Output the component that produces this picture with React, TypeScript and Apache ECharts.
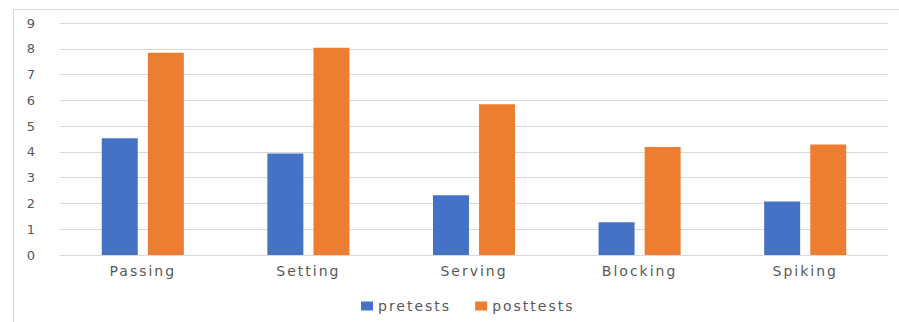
import React, { useEffect, useRef } from "react";
import * as echarts from "echarts";

// Skill scores before and after the training programme
const categories = ["Passing", "Setting", "Serving", "Blocking", "Spiking"];
const pretests = [4.53, 3.94, 2.32, 1.27, 2.08];
const posttests = [7.85, 8.04, 5.85, 4.19, 4.29];
const seriesNames = ["pretests", "posttests"];
const yTicks = { min: 0, max: 9, interval: 1 };

const BLUE = "#4472C4";
const ORANGE = "#ED7D31";
const TEXT = "#595959";
const GRID = "#d9d9d9";
const FONT = "DejaVu Sans";

export default function App() {
  const ref = useRef<HTMLDivElement>(null);

  useEffect(() => {
    if (!ref.current) return;
    const chart = echarts.init(ref.current, null, { renderer: "svg" });
    chart.setOption({
      animation: false,
      backgroundColor: "#ffffff",
      graphic: [
        {
          type: "rect",
          left: 11,
          top: 7,
          shape: { width: 900, height: 330 },
          style: { fill: "none", stroke: GRID, lineWidth: 1 },
          silent: true,
        },
      ],
      grid: { left: 60, right: 11, top: 23, bottom: 67, containLabel: false },
      legend: {
        data: seriesNames,
        left: 356,
        top: 294,
        itemWidth: 12,
        itemHeight: 9,
        itemGap: 40,
        icon: "rect",
        textStyle: { color: TEXT, fontFamily: FONT, fontSize: 14 },
      },
      xAxis: {
        type: "category",
        data: categories,
        axisLine: { show: true, lineStyle: { color: GRID, width: 1 } },
        axisTick: { show: false },
        axisLabel: { color: TEXT, fontFamily: FONT, fontSize: 14, margin: 9 },
      },
      yAxis: {
        type: "value",
        min: yTicks.min,
        max: yTicks.max,
        interval: yTicks.interval,
        axisLine: { show: false },
        axisTick: { show: false },
        axisLabel: { color: TEXT, fontFamily: FONT, fontSize: 13, margin: 23 },
        splitLine: { lineStyle: { color: GRID, width: 1 } },
      },
      series: [
        {
          name: seriesNames[0],
          type: "bar",
          data: pretests,
          barWidth: 36,
          barGap: "28%",
          itemStyle: { color: BLUE },
        },
        {
          name: seriesNames[1],
          type: "bar",
          data: posttests,
          barWidth: 36,
          barGap: "28%",
          itemStyle: { color: ORANGE },
        },
      ],
    });
    return () => chart.dispose();
  }, []);

  return (
    <>
      <style>{`body{margin:0;} .skills-chart text{letter-spacing:2px;}`}</style>
      <div
        ref={ref}
        className="skills-chart"
        style={{ position: "absolute", left: 0, top: 0, width: 899, height: 322 }}
      />
    </>
  );
}
